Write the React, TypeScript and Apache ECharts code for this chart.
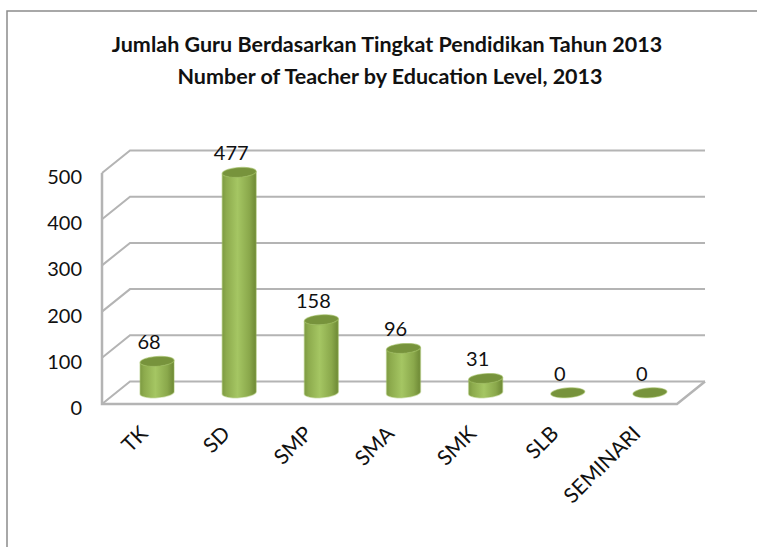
import React, { useEffect, useRef } from "react";
import * as echarts from "echarts";

const categories = ["TK", "SD", "SMP", "SMA", "SMK", "SLB", "SEMINARI"];
const teachers = [68, 477, 158, 96, 31, 0, 0];
const yTicks = [0, 100, 200, 300, 400, 500];
const titleLine1 = "Jumlah Guru Berdasarkan Tingkat Pendidikan Tahun 2013";
const titleLine2 = "Number of Teacher by Education Level, 2013";

const FONT = "Lato, 'Open Sans', sans-serif";
const DEPTH_X = 28;
const DEPTH_Y = 22.5;
const RX = 17;
const RY = 4.8;
const TILT = (4 * Math.PI) / 180;
const WALL = "#b4b4b4";

function arc(cx: number, cy: number, from: number, to: number, n = 24) {
  const pts: number[][] = [];
  for (let k = 0; k <= n; k++) {
    const a = from + ((to - from) * k) / n;
    const ex = RX * Math.cos(a);
    const ey = RY * Math.sin(a);
    pts.push([cx + ex * Math.cos(TILT) + ey * Math.sin(TILT), cy - ex * Math.sin(TILT) + ey * Math.cos(TILT)]);
  }
  return pts;
}

function renderWall(_: any, api: any) {
  const v = api.value(1);
  const band = api.size([1, 0])[0];
  const [cx, y] = api.coord([0, v]);
  const left = cx - band / 2;
  const right = left + band * categories.length;
  const children: any[] = [
    {
      type: "polyline",
      shape: { points: [[left, y], [left + DEPTH_X, y - DEPTH_Y], [right + DEPTH_X, y - DEPTH_Y]] },
      style: { stroke: WALL, lineWidth: 2, fill: "none" },
    },
  ];
  if (v === 0) {
    const top = api.coord([0, yTicks[yTicks.length - 1]])[1];
    children.push({
      type: "polyline",
      shape: { points: [[left, top], [left, y], [right, y], [right + DEPTH_X, y - DEPTH_Y]] },
      style: { stroke: WALL, lineWidth: 2.5, fill: "none" },
    });
  }
  return { type: "group", children };
}

function renderCylinder(_: any, api: any) {
  const i = api.value(0);
  const v = api.value(1);
  const base = api.coord([i, 0]);
  const top = api.coord([i, v]);
  const cx = base[0] + DEPTH_X / 2;
  const by = base[1] - DEPTH_Y / 2;
  const ty = top[1] - DEPTH_Y / 2;
  const capFill = "#77933c";
  const children: any[] = [];
  if (v > 0) {
    const body = [...arc(cx, ty, Math.PI, 0), ...arc(cx, by, 0, Math.PI)];
    children.push({
      type: "polygon",
      shape: { points: body },
      style: {
        fill: new echarts.graphic.LinearGradient(0, 0, 1, 0, [
          { offset: 0, color: "#7d9a42" },
          { offset: 0.12, color: "#8dab4d" },
          { offset: 0.45, color: "#a5c663" },
          { offset: 0.8, color: "#8aa84b" },
          { offset: 1, color: "#6d8835" },
        ]),
        stroke: "rgba(155,187,89,0.4)",
        lineWidth: 1.5,
      },
    });
  }
  children.push({
    type: "polygon",
    shape: { points: arc(cx, ty, 0, Math.PI * 2, 40) },
    style: { fill: capFill, stroke: "rgba(155,187,89,0.5)", lineWidth: 1.2 },
  });
  children.push({
    type: "text",
    style: {
      x: cx - 8,
      y: ty - 20,
      text: String(v),
      font: `20px ${FONT}`,
      fill: "#111111",
      align: "center",
      verticalAlign: "middle",
    },
  });
  return { type: "group", children };
}

export default function App() {
  const ref = useRef<HTMLDivElement>(null);
  useEffect(() => {
    const chart = echarts.init(ref.current!, null, { renderer: "svg" });
    chart.setOption({
      animation: false,
      backgroundColor: "#ffffff",
      title: [
        { text: titleLine1, left: 382, top: 28, textAlign: "center", textStyle: { fontFamily: FONT, fontSize: 21.5, fontWeight: "bold", color: "#111111" } },
        { text: titleLine2, left: 385, top: 60, textAlign: "center", textStyle: { fontFamily: FONT, fontSize: 21.5, fontWeight: "bold", color: "#111111" } },
      ],
      grid: { left: 102, right: 80, top: 173, bottom: 143, containLabel: false },
      xAxis: {
        type: "category",
        data: categories,
        axisLine: { show: false },
        axisTick: { show: false },
        splitLine: { show: false },
        axisLabel: { rotate: 45, margin: 25, interval: 0, fontFamily: FONT, fontSize: 21, color: "#111111" },
      },
      yAxis: {
        type: "value",
        min: 0,
        max: 500,
        interval: 100,
        axisLine: { show: false },
        axisTick: { show: false },
        splitLine: { show: false },
        axisLabel: { margin: 20, verticalAlign: "top", lineHeight: 6, fontFamily: FONT, fontSize: 20, color: "#111111" },
      },
      graphic: [
        {
          type: "polyline",
          shape: { points: [[7, 547], [7, 11], [757, 11]] },
          style: { stroke: "#8c8c8c", lineWidth: 1.5, fill: "none" },
          silent: true,
        },
      ],
      series: [
        {
          type: "custom",
          renderItem: renderWall,
          data: yTicks.map((t) => [0, t]),
          encode: { x: 0, y: 1 },
          z: 1,
          silent: true,
        },
        {
          type: "custom",
          renderItem: renderCylinder,
          data: teachers.map((t, i) => [i, t]),
          encode: { x: 0, y: 1 },
          z: 2,
          silent: true,
        },
      ],
    });
    return () => chart.dispose();
  }, []);
  return <div ref={ref} style={{ position: "absolute", left: 0, top: 0, width: 757, height: 547 }} />;
}
